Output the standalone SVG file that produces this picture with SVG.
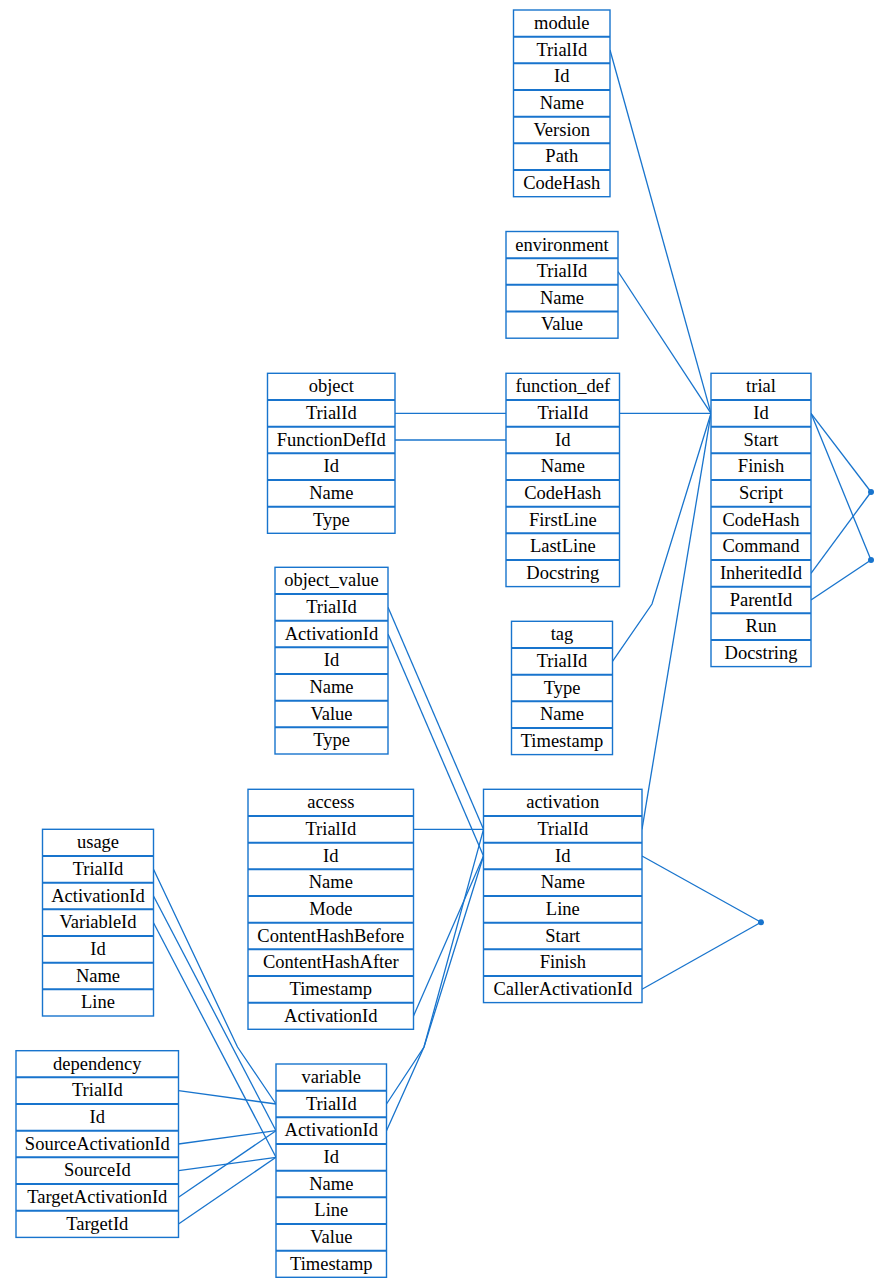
<svg xmlns="http://www.w3.org/2000/svg" width="879" height="1288" viewBox="0 0 879 1288" font-family="Liberation Serif, Times New Roman, DejaVu Serif, serif">
  <style>
    .box { fill: #ffffff; stroke: #1874CD; stroke-width: 1.4; }
    .sep { stroke: #1874CD; stroke-width: 2; }
    .lbl { font-size: 18.5px; fill: #000000; text-anchor: middle; }
    .edge { fill: none; stroke: #1874CD; stroke-width: 1.3; }
    .dot { fill: #1874CD; }
  </style>
  <rect width="879" height="1288" fill="#ffffff"/>

  <!-- relations -->
  <g id="connectors">
    <path class="edge" d="M610,50 L711,413.3"/>
    <path class="edge" d="M618,271.5 L711,413.3"/>
    <path class="edge" d="M619.5,413.3 L711,413.3"/>
    <path class="edge" d="M612.5,661.3 L652,604 L711,413.3"/>
    <path class="edge" d="M642,829.3 L711,413.3"/>
    <path class="edge" d="M395,413.3 L506,413.3"/>
    <path class="edge" d="M395,440 L506,440"/>
    <path class="edge" d="M811,413.3 L871,492"/>
    <path class="edge" d="M811,413.3 L871,560"/>
    <path class="edge" d="M811,573.3 L871,492"/>
    <path class="edge" d="M811,600 L871,560"/>
    <path class="edge" d="M642,856 L761,922.3"/>
    <path class="edge" d="M642,989.3 L761,922.3"/>
    <path class="edge" d="M388,607.3 L483.5,829.3"/>
    <path class="edge" d="M388,634 L483.5,856"/>
    <path class="edge" d="M413.5,829.3 L483.5,829.3"/>
    <path class="edge" d="M413.5,1016 L483.5,856"/>
    <path class="edge" d="M386.5,1104 L424,1047 L483.5,829.3"/>
    <path class="edge" d="M386.5,1130.7 L424,1047 L483.5,856"/>
    <path class="edge" d="M153.5,869.3 L237.5,1047 L276,1104"/>
    <path class="edge" d="M153.5,896 L276,1130.7"/>
    <path class="edge" d="M153.5,922.7 L276,1157.3"/>
    <path class="edge" d="M178.5,1090.7 L276,1104"/>
    <path class="edge" d="M178.5,1144 L276,1130.7"/>
    <path class="edge" d="M178.5,1170.7 L276,1157.3"/>
    <path class="edge" d="M178.5,1197.3 L276,1130.7"/>
    <path class="edge" d="M178.5,1224 L276,1157.3"/>
    <circle class="dot" cx="871" cy="492" r="3"/>
    <circle class="dot" cx="871" cy="560" r="3"/>
    <circle class="dot" cx="761" cy="922.3" r="3"/>
  </g>

  <!-- module: top 10, row 26.67 -->
  <g id="module">
    <rect class="box" x="513.5" y="10" width="96.5" height="186.7"/>
    <path class="sep" d="M513.5,36.7H610M513.5,63.3H610M513.5,90H610M513.5,116.7H610M513.5,143.3H610M513.5,170H610"/>
    <text class="lbl" x="561.8" y="29">module</text>
    <text class="lbl" x="561.8" y="55.5">TrialId</text>
    <text class="lbl" x="561.8" y="82.2">Id</text>
    <text class="lbl" x="561.8" y="108.8">Name</text>
    <text class="lbl" x="561.8" y="135.5">Version</text>
    <text class="lbl" x="561.8" y="162.2">Path</text>
    <text class="lbl" x="561.8" y="188.8">CodeHash</text>
  </g>

  <g id="environment">
    <rect class="box" x="506" y="231.5" width="112" height="106.7"/>
    <path class="sep" d="M506,258.2H618M506,284.8H618M506,311.5H618"/>
    <text class="lbl" x="562" y="250.5">environment</text>
    <text class="lbl" x="562" y="277">TrialId</text>
    <text class="lbl" x="562" y="303.7">Name</text>
    <text class="lbl" x="562" y="330.3">Value</text>
  </g>

  <g id="object">
    <rect class="box" x="267.5" y="373.3" width="127.5" height="160"/>
    <path class="sep" d="M267.5,400H395M267.5,426.7H395M267.5,453.3H395M267.5,480H395M267.5,506.7H395"/>
    <text class="lbl" x="331.3" y="392.4">object</text>
    <text class="lbl" x="331.3" y="418.8">TrialId</text>
    <text class="lbl" x="331.3" y="445.5">FunctionDefId</text>
    <text class="lbl" x="331.3" y="472.2">Id</text>
    <text class="lbl" x="331.3" y="498.8">Name</text>
    <text class="lbl" x="331.3" y="525.5">Type</text>
  </g>

  <g id="function_def">
    <rect class="box" x="506" y="373.3" width="113.5" height="213.3"/>
    <path class="sep" d="M506,400H619.5M506,426.7H619.5M506,453.3H619.5M506,480H619.5M506,506.7H619.5M506,533.3H619.5M506,560H619.5"/>
    <text class="lbl" x="562.8" y="392.4">function_def</text>
    <text class="lbl" x="562.8" y="418.8">TrialId</text>
    <text class="lbl" x="562.8" y="445.5">Id</text>
    <text class="lbl" x="562.8" y="472.2">Name</text>
    <text class="lbl" x="562.8" y="498.8">CodeHash</text>
    <text class="lbl" x="562.8" y="525.5">FirstLine</text>
    <text class="lbl" x="562.8" y="552.2">LastLine</text>
    <text class="lbl" x="562.8" y="578.8">Docstring</text>
  </g>

  <g id="trial">
    <rect class="box" x="711" y="373.3" width="100" height="293.3"/>
    <path class="sep" d="M711,400H811M711,426.7H811M711,453.3H811M711,480H811M711,506.7H811M711,533.3H811M711,560H811M711,586.7H811M711,613.3H811M711,640H811"/>
    <text class="lbl" x="761" y="392.4">trial</text>
    <text class="lbl" x="761" y="418.8">Id</text>
    <text class="lbl" x="761" y="445.5">Start</text>
    <text class="lbl" x="761" y="472.2">Finish</text>
    <text class="lbl" x="761" y="498.8">Script</text>
    <text class="lbl" x="761" y="525.5">CodeHash</text>
    <text class="lbl" x="761" y="552.2">Command</text>
    <text class="lbl" x="761" y="578.8">InheritedId</text>
    <text class="lbl" x="761" y="605.5">ParentId</text>
    <text class="lbl" x="761" y="632.2">Run</text>
    <text class="lbl" x="761" y="658.8">Docstring</text>
  </g>

  <g id="object_value">
    <rect class="box" x="275" y="567.3" width="113" height="186.7"/>
    <path class="sep" d="M275,594H388M275,620.7H388M275,647.3H388M275,674H388M275,700.7H388M275,727.3H388"/>
    <text class="lbl" x="331.5" y="586.4">object_value</text>
    <text class="lbl" x="331.5" y="612.8">TrialId</text>
    <text class="lbl" x="331.5" y="639.5">ActivationId</text>
    <text class="lbl" x="331.5" y="666.2">Id</text>
    <text class="lbl" x="331.5" y="692.8">Name</text>
    <text class="lbl" x="331.5" y="719.5">Value</text>
    <text class="lbl" x="331.5" y="746.2">Type</text>
  </g>

  <g id="tag">
    <rect class="box" x="511.5" y="621.3" width="101" height="133.3"/>
    <path class="sep" d="M511.5,648H612.5M511.5,674.7H612.5M511.5,701.3H612.5M511.5,728H612.5"/>
    <text class="lbl" x="562" y="640.4">tag</text>
    <text class="lbl" x="562" y="666.8">TrialId</text>
    <text class="lbl" x="562" y="693.5">Type</text>
    <text class="lbl" x="562" y="720.2">Name</text>
    <text class="lbl" x="562" y="746.8">Timestamp</text>
  </g>

  <g id="access">
    <rect class="box" x="248" y="789.3" width="165.5" height="240"/>
    <path class="sep" d="M248,816H413.5M248,842.7H413.5M248,869.3H413.5M248,896H413.5M248,922.7H413.5M248,949.3H413.5M248,976H413.5M248,1002.7H413.5"/>
    <text class="lbl" x="330.8" y="808.4">access</text>
    <text class="lbl" x="330.8" y="834.8">TrialId</text>
    <text class="lbl" x="330.8" y="861.5">Id</text>
    <text class="lbl" x="330.8" y="888.2">Name</text>
    <text class="lbl" x="330.8" y="914.8">Mode</text>
    <text class="lbl" x="330.8" y="941.5">ContentHashBefore</text>
    <text class="lbl" x="330.8" y="968.2">ContentHashAfter</text>
    <text class="lbl" x="330.8" y="994.8">Timestamp</text>
    <text class="lbl" x="330.8" y="1021.5">ActivationId</text>
  </g>

  <g id="activation">
    <rect class="box" x="483.5" y="789.3" width="158.5" height="213.3"/>
    <path class="sep" d="M483.5,816H642M483.5,842.7H642M483.5,869.3H642M483.5,896H642M483.5,922.7H642M483.5,949.3H642M483.5,976H642"/>
    <text class="lbl" x="562.8" y="808.4">activation</text>
    <text class="lbl" x="562.8" y="834.8">TrialId</text>
    <text class="lbl" x="562.8" y="861.5">Id</text>
    <text class="lbl" x="562.8" y="888.2">Name</text>
    <text class="lbl" x="562.8" y="914.8">Line</text>
    <text class="lbl" x="562.8" y="941.5">Start</text>
    <text class="lbl" x="562.8" y="968.2">Finish</text>
    <text class="lbl" x="562.8" y="994.8">CallerActivationId</text>
  </g>

  <g id="usage">
    <rect class="box" x="42.5" y="829.3" width="111" height="186.7"/>
    <path class="sep" d="M42.5,856H153.5M42.5,882.7H153.5M42.5,909.3H153.5M42.5,936H153.5M42.5,962.7H153.5M42.5,989.3H153.5"/>
    <text class="lbl" x="98" y="848.4">usage</text>
    <text class="lbl" x="98" y="874.8">TrialId</text>
    <text class="lbl" x="98" y="901.5">ActivationId</text>
    <text class="lbl" x="98" y="928.2">VariableId</text>
    <text class="lbl" x="98" y="954.8">Id</text>
    <text class="lbl" x="98" y="981.5">Name</text>
    <text class="lbl" x="98" y="1008.2">Line</text>
  </g>

  <g id="dependency">
    <rect class="box" x="16" y="1050.7" width="162.5" height="186.7"/>
    <path class="sep" d="M16,1077.3H178.5M16,1104H178.5M16,1130.7H178.5M16,1157.3H178.5M16,1184H178.5M16,1210.7H178.5"/>
    <text class="lbl" x="97.3" y="1069.8">dependency</text>
    <text class="lbl" x="97.3" y="1096.2">TrialId</text>
    <text class="lbl" x="97.3" y="1122.8">Id</text>
    <text class="lbl" x="97.3" y="1149.5">SourceActivationId</text>
    <text class="lbl" x="97.3" y="1176.2">SourceId</text>
    <text class="lbl" x="97.3" y="1202.8">TargetActivationId</text>
    <text class="lbl" x="97.3" y="1229.5">TargetId</text>
  </g>

  <g id="variable">
    <rect class="box" x="276" y="1064" width="110.5" height="213.3"/>
    <path class="sep" d="M276,1090.7H386.5M276,1117.3H386.5M276,1144H386.5M276,1170.7H386.5M276,1197.3H386.5M276,1224H386.5M276,1250.7H386.5"/>
    <text class="lbl" x="331.3" y="1083.1">variable</text>
    <text class="lbl" x="331.3" y="1109.5">TrialId</text>
    <text class="lbl" x="331.3" y="1136.2">ActivationId</text>
    <text class="lbl" x="331.3" y="1162.8">Id</text>
    <text class="lbl" x="331.3" y="1189.5">Name</text>
    <text class="lbl" x="331.3" y="1216.2">Line</text>
    <text class="lbl" x="331.3" y="1242.8">Value</text>
    <text class="lbl" x="331.3" y="1269.5">Timestamp</text>
  </g>
</svg>
